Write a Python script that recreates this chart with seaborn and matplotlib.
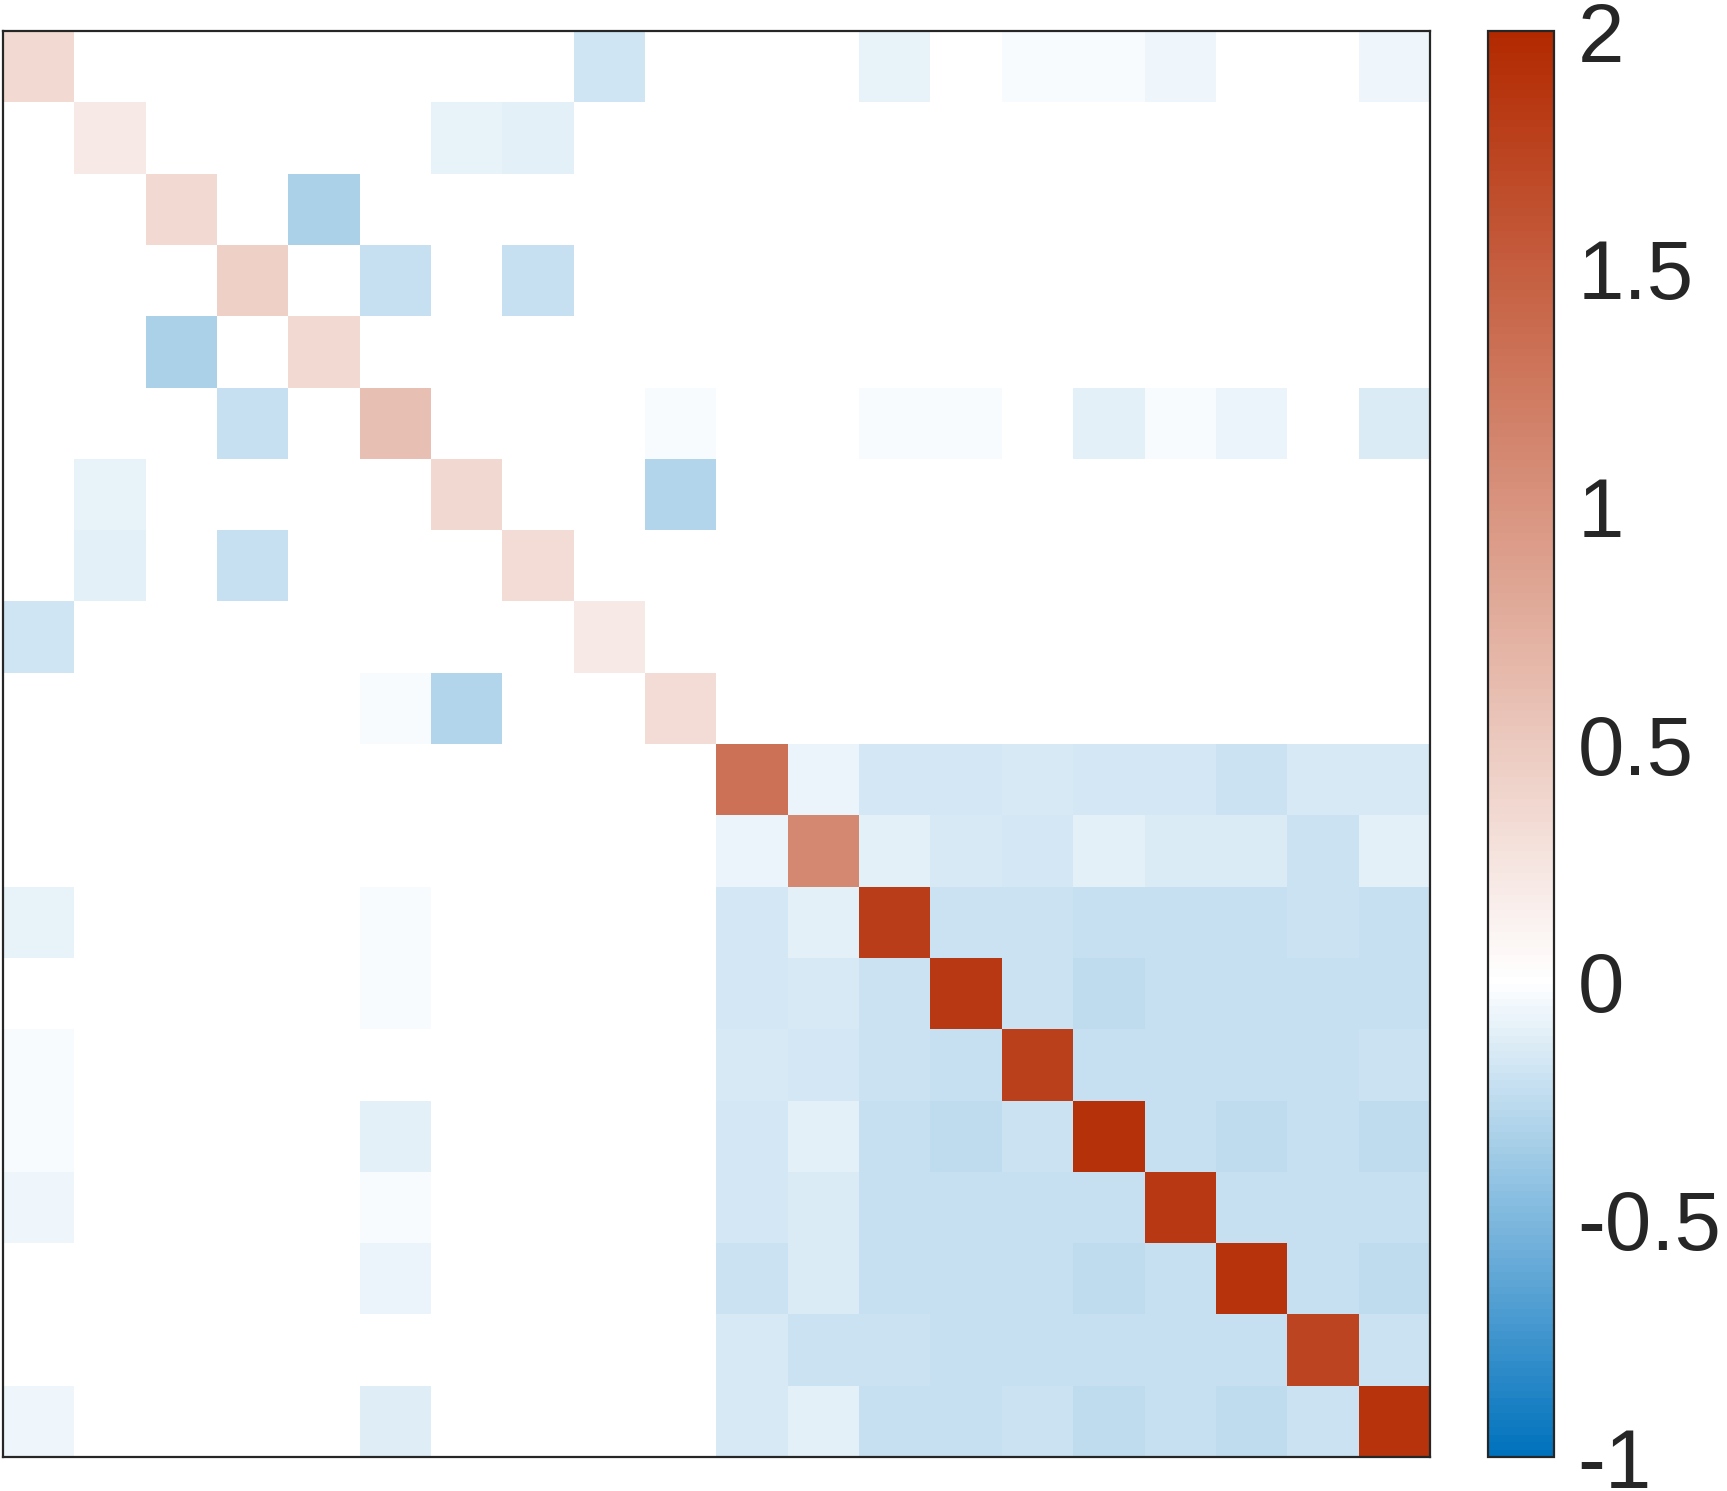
import numpy as np
import pandas as pd
import matplotlib
matplotlib.use('Agg')
import matplotlib.pyplot as plt
from matplotlib.colors import LinearSegmentedColormap
import seaborn as sns

# ─── data: 20x20 matrix ──────────────────────────────────────────────────────
n = 20
diag_vals = [0.35, 0.20, 0.35, 0.44, 0.35, 0.60, 0.36, 0.33, 0.20, 0.33,
             1.32, 1.10, 1.80, 1.85, 1.78, 1.92, 1.86, 1.90, 1.75, 1.90]

# sparse off-diagonal entries in the first 10 rows: (row, col, value)
top_entries = [
    (0, 8, -0.19), (0, 12, -0.085), (0, 14, -0.035), (0, 15, -0.035),
    (0, 16, -0.055), (0, 19, -0.055),
    (1, 6, -0.085), (1, 7, -0.10),
    (2, 4, -0.32),
    (3, 5, -0.21), (3, 7, -0.21),
    (4, 2, -0.32),
    (5, 3, -0.21), (5, 9, -0.035), (5, 12, -0.035), (5, 13, -0.035),
    (5, 15, -0.11), (5, 16, -0.035), (5, 17, -0.08), (5, 19, -0.13),
    (6, 1, -0.085), (6, 9, -0.30),
    (7, 1, -0.10), (7, 3, -0.21),
    (8, 0, -0.19),
    (9, 5, -0.035), (9, 6, -0.30),
]

# lower-left entries (rows 10-19, cols 0-9)
lower_left_entries = [
    (12, 0, -0.085), (12, 5, -0.035),
    (13, 5, -0.035),
    (14, 0, -0.035),
    (15, 0, -0.035), (15, 5, -0.10),
    (16, 0, -0.055), (16, 5, -0.035),
    (17, 5, -0.08),
    (19, 0, -0.055), (19, 5, -0.125),
]

# dense lower-right block (rows/cols 10-19), diagonal filled from diag_vals
block = [
    [0.00, -0.08, -0.17, -0.17, -0.15, -0.17, -0.17, -0.20, -0.15, -0.15],
    [-0.08, 0.00, -0.10, -0.15, -0.17, -0.10, -0.13, -0.13, -0.20, -0.10],
    [-0.17, -0.10, 0.00, -0.20, -0.20, -0.21, -0.21, -0.21, -0.20, -0.21],
    [-0.17, -0.15, -0.20, 0.00, -0.20, -0.24, -0.21, -0.21, -0.21, -0.21],
    [-0.15, -0.17, -0.20, -0.21, 0.00, -0.21, -0.21, -0.21, -0.21, -0.20],
    [-0.17, -0.10, -0.21, -0.24, -0.20, 0.00, -0.21, -0.24, -0.21, -0.24],
    [-0.17, -0.13, -0.21, -0.21, -0.21, -0.21, 0.00, -0.21, -0.21, -0.21],
    [-0.20, -0.13, -0.21, -0.21, -0.21, -0.24, -0.21, 0.00, -0.21, -0.24],
    [-0.15, -0.20, -0.20, -0.21, -0.21, -0.21, -0.21, -0.21, 0.00, -0.20],
    [-0.15, -0.10, -0.21, -0.21, -0.20, -0.24, -0.21, -0.24, -0.20, 0.00],
]

cbar_ticks = [-1, -0.5, 0, 0.5, 1, 1.5, 2]
cbar_labels = ['-1', '-0.5', '0', '0.5', '1', '1.5', '2']

# ─── build matrix ────────────────────────────────────────────────────────────
mat = np.zeros((n, n))
mat[10:, 10:] = np.array(block)
for r, c, v in top_entries + lower_left_entries:
    mat[r, c] = v
mat[np.arange(n), np.arange(n)] = diag_vals
df = pd.DataFrame(mat)

# ─── plot ────────────────────────────────────────────────────────────────────
sns.set_theme(style='white')
plt.rcParams['font.family'] = ['Liberation Sans', 'DejaVu Sans']
plt.rcParams['axes.unicode_minus'] = False

vmin, vmax = -1, 2
# N = 193 so that 0 lands exactly on the white entry
cmap = LinearSegmentedColormap.from_list(
    'bwr_matlab',
    [(0.0, '#0072BD'), ((0 - vmin) / (vmax - vmin), '#FFFFFF'), (1.0, '#B22900')],
    N=193,
)

fig = plt.figure(figsize=(17.27, 14.91), dpi=100)
ax = fig.add_axes([0.0017, 0.0228, 0.8263, 0.9564])
cax = fig.add_axes([0.8616, 0.0228, 0.0382, 0.9564])

sns.heatmap(df, ax=ax, cbar_ax=cax, cmap=cmap, vmin=vmin, vmax=vmax,
            xticklabels=False, yticklabels=False, square=False)

ax.set_xlabel('')
ax.set_ylabel('')
for sp in ax.spines.values():
    sp.set_visible(True)
    sp.set_color('#262626')
    sp.set_linewidth(1.6)

cbar = ax.collections[0].colorbar
cbar.set_ticks(cbar_ticks)
cbar.set_ticklabels(cbar_labels)
cbar.outline.set_visible(True)
cbar.outline.set_edgecolor('#262626')
cbar.outline.set_linewidth(1.6)
cax.tick_params(axis='y', direction='in', length=15, width=1.4, color='#262626',
                labelsize=60, labelcolor='#262626', pad=17, right=True)

fig.savefig('out.png', dpi=100)
plt.close(fig)
